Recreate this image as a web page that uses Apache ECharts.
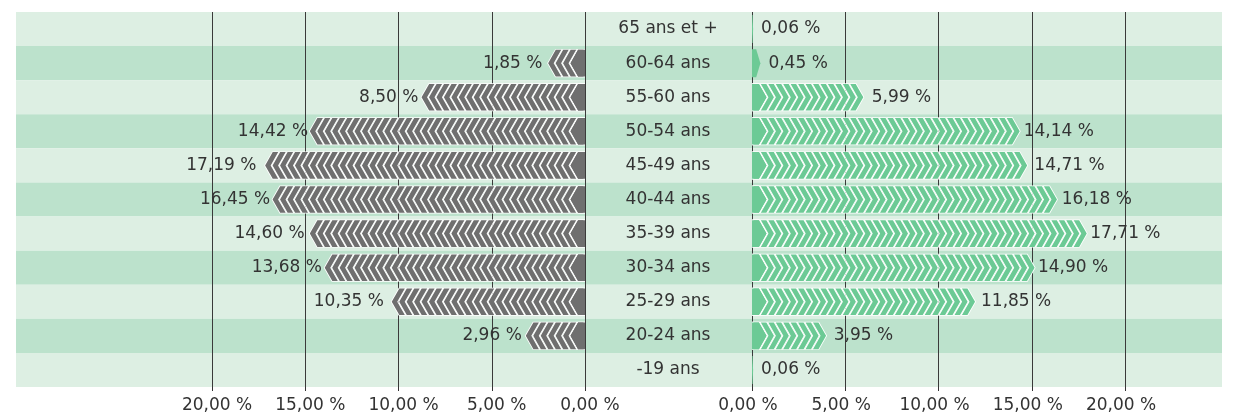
<!DOCTYPE html>
<html>
<head>
<meta charset="utf-8">
<script src="https://cdn.jsdelivr.net/npm/echarts@6/dist/echarts.min.js"></script>
<style>
html,body{margin:0;padding:0;background:#fff;}
#chart{width:1243px;height:416px;}
</style>
</head>
<body>
<div id="chart"></div>
<script>
// Data
const categories = ['65 ans et +', '60-64 ans', '55-60 ans', '50-54 ans', '45-49 ans', '40-44 ans', '35-39 ans', '30-34 ans', '25-29 ans', '20-24 ans', '-19 ans'];
const leftValues = [0, 1.85, 8.50, 14.42, 17.19, 16.45, 14.60, 13.68, 10.35, 2.96, 0];
const rightValues = [0.06, 0.45, 5.99, 14.14, 14.71, 16.18, 17.71, 14.90, 11.85, 3.95, 0.06];
const axisTicks = [0, 5, 10, 15, 20];

const FONT = 'DejaVu Sans';
const TXT = '#333333';
const GREY = '#6f6f6f';
const GREEN = '#6cca95';

const fmt = v => v.toFixed(2).replace('.', ',') + ' %';

// Chevron symbols (drawn in the bar direction; mirrored automatically on the inverted axis).
// White outline chevron and coloured inner chevron share the same bounding box.
const ANCH = 'M0,0 L0,0 Z M15.5,28 L15.5,28 Z ';
const chevWhite = 'path://M0,0 L7.5,0 L15.5,14 L7.5,28 L0,28 L8,14 Z';
const chevFill = 'path://' + ANCH + 'M1.4,0.7 L6.9,0.7 L14.5,14 L6.9,27.3 L1.4,27.3 L9,14 Z';
const baseWhite = 'path://M0,0 L7.5,0 L15.5,14 L7.5,28 L0,28 Z';
const baseFill = 'path://' + ANCH + 'M0,0.7 L6.9,0.7 L14.5,14 L6.9,27.3 L0,27.3 Z';
const smallFill = 'path://M0,0.7 L5,0.7 L10,14 L5,27.3 L0,27.3 Z';
const SYM = [15.5, 28];
const MARGIN = -4;

const chart = echarts.init(document.getElementById('chart'), null, {renderer: 'canvas'});

function valueAxis(gridIndex, inverse) {
  return {
    type: 'value', gridIndex: gridIndex, min: axisTicks[0], max: axisTicks[axisTicks.length - 1], interval: 5,
    inverse: inverse,
    axisLine: {show: false},
    axisTick: {show: true, length: 4, lineStyle: {color: '#333', width: 1}},
    splitLine: {show: true, lineStyle: {color: '#3a3a3a', width: 1}},
    axisLabel: {
      formatter: fmt, fontFamily: FONT, fontSize: 17, color: TXT, margin: 10,
      padding: inverse ? [0, 0, 0, 10] : [0, 8, 0, 0]
    },
    z: 1
  };
}

function bars(xi, values, color, pos) {
  const repeated = values.map(v => v >= 1 ? v : '-');
  // small values: a single pentagon stretched to the bar length
  const baseData = values.map(v => (v > 0 && v < 1)
    ? {value: v, symbol: smallFill, symbolSize: ['100%', 28], symbolClip: false}
    : v);
  const whiteBase = values.map(v => (v > 0 && v < 1) ? '-' : v);
  const common = {type: 'pictorialBar', xAxisIndex: xi, yAxisIndex: xi, symbolSize: SYM, silent: true};
  return [
    Object.assign({}, common, {
      data: repeated, symbol: chevWhite, symbolRepeat: true, symbolMargin: MARGIN,
      itemStyle: {color: '#ffffff'}, z: 2
    }),
    Object.assign({}, common, {
      data: whiteBase, symbol: baseWhite, symbolPosition: 'start', symbolClip: true,
      itemStyle: {color: '#ffffff'}, z: 2
    }),
    Object.assign({}, common, {
      data: repeated, symbol: chevFill, symbolRepeat: true, symbolMargin: MARGIN,
      itemStyle: {color: color}, z: 3
    }),
    Object.assign({}, common, {
      data: baseData, symbol: baseFill, symbolPosition: 'start', symbolClip: true,
      itemStyle: {color: color}, z: 3,
      label: {
        show: true, position: pos, distance: 8, fontFamily: FONT, fontSize: 17, color: TXT,
        formatter: p => p.value > 0 ? fmt(p.value) : ''
      }
    })
  ];
}

const option = {
  animation: false,
  backgroundColor: '#ffffff',
  grid: [
    {left: 16, top: 12, width: 1206, height: 375},
    {left: 212, top: 12, width: 373, height: 375},
    {left: 752, top: 12, width: 373, height: 375}
  ],
  xAxis: [
    {type: 'value', gridIndex: 0, show: false, min: 0, max: 1},
    valueAxis(1, true),
    valueAxis(2, false)
  ],
  yAxis: [
    {
      type: 'category', gridIndex: 0, data: categories, inverse: true,
      axisLine: {show: false}, axisTick: {show: false}, axisLabel: {show: false},
      splitLine: {show: false},
      splitArea: {show: true, areaStyle: {color: ['#ddefe3', '#bce2cc']}},
      z: 0
    },
    {
      type: 'category', gridIndex: 1, data: categories, inverse: true,
      axisLine: {show: false}, axisTick: {show: false}, axisLabel: {show: false},
      splitLine: {show: false}, z: 1
    },
    {
      type: 'category', gridIndex: 2, data: categories, inverse: true, position: 'left',
      axisLine: {show: false}, axisTick: {show: false},
      axisLabel: {show: true, align: 'center', margin: 84, fontFamily: FONT, fontSize: 17, color: TXT},
      splitLine: {show: false}, z: 1
    }
  ],
  series: [].concat(bars(1, leftValues, GREY, 'left'), bars(2, rightValues, GREEN, 'right'))
};
chart.setOption(option);
</script>
</body>
</html>
